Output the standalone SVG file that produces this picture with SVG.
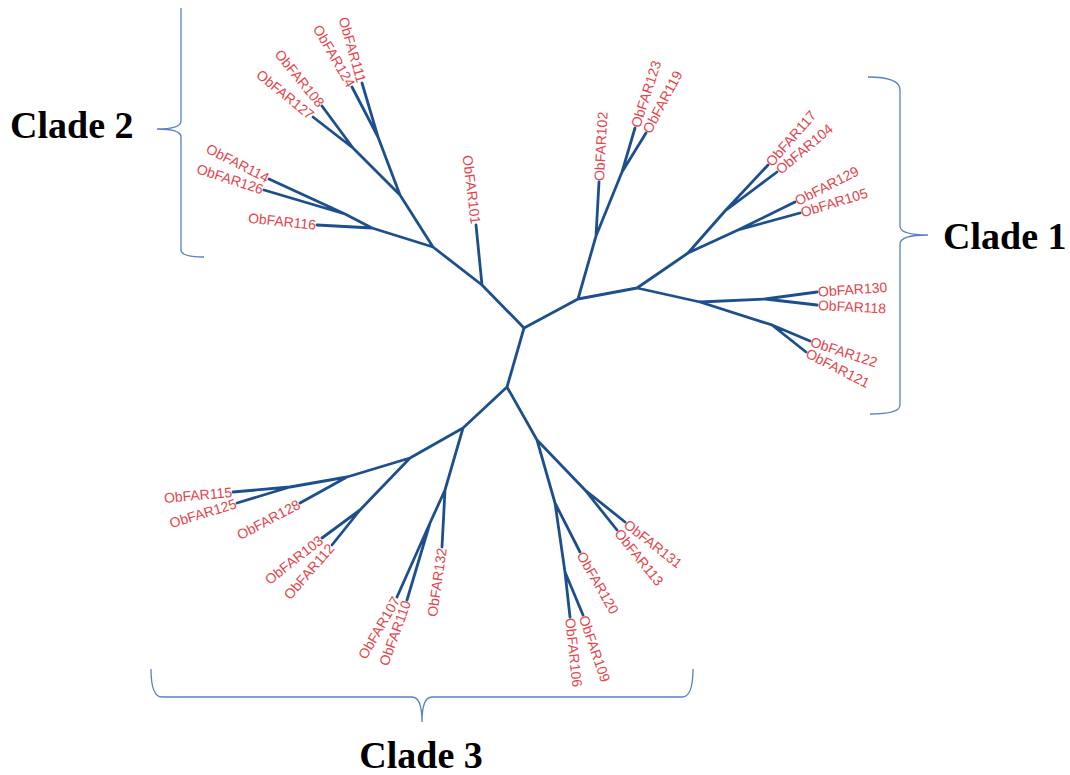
<svg xmlns="http://www.w3.org/2000/svg" width="1070" height="775" viewBox="0 0 1070 775">
<style>
.lbl{font-family:"Liberation Sans",Arial,sans-serif;font-size:14px;fill:#e2444c;}
.e{text-anchor:end;}
.br{fill:none;stroke:#5b7fc2;stroke-width:1.3;}
.cl{font-family:"Liberation Serif","Times New Roman",serif;font-size:38px;font-weight:bold;fill:#000;}
.edge{fill:none;stroke:#1d4f8d;stroke-width:2.8;stroke-linecap:round;stroke-linejoin:round;}
</style>
<rect width="1070" height="775" fill="#fff"/>
<g id="connectors">
<path class="edge" d="M524,328 L482,285 M482,285 L476,225 M482,285 L433,247 M433,247 L400,195 M400,195 L378,137 M378,137 L362,83 M378,137 L352,87 M400,195 L353,148 M353,148 L322,106 M353,148 L313,117 M433,247 L372,228 M372,228 L317,225 M372,228 L345,214 M345,214 L269,179 M345,214 L264,190"/>
<path class="edge" d="M524,328 L578,299 M578,299 L596,236 M596,236 L599,182 M596,236 L622,172 M622,172 L635,128 M622,172 L646,133 M578,299 L637,288 M637,288 L688,253 M688,253 L725,211 M725,211 L768,165 M725,211 L777,172 M688,253 L738,230 M738,230 L795,202 M738,230 L800,213 M637,288 L700,302 M700,302 L765,299 M765,299 L817,292 M765,299 L817,305 M700,302 L772,325 M772,325 L810,341 M772,325 L806,352"/>
<path class="edge" d="M524,328 L507,387 M507,387 L463,428 M463,428 L410,458 M410,458 L347,477 M347,477 L290,487 M290,487 L233,492 M290,487 L237,503 M347,477 L300,503 M410,458 L360,510 M360,510 L322,538 M360,510 L332,545 M463,428 L445,490 M445,490 L442,547 M445,490 L430,523 M430,523 L397,597 M430,523 L407,600 M507,387 L537,440 M537,440 L585,490 M585,490 L625,522 M585,490 L617,530 M537,440 L555,503 M555,503 L580,552 M555,503 L565,572 M565,572 L570,617 M565,572 L583,615"/>
</g>
<g id="clade2-leaves">
<g id="ObFAR111"><text class="lbl e" transform="translate(362,83) rotate(74)" x="-1" dy="0.35em">ObFAR111</text></g>
<g id="ObFAR124"><text class="lbl e" transform="translate(352,87) rotate(60)" x="-1" dy="0.35em">ObFAR124</text></g>
<g id="ObFAR108"><text class="lbl e" transform="translate(322,106) rotate(51)" x="-1" dy="0.35em">ObFAR108</text></g>
<g id="ObFAR127"><text class="lbl e" transform="translate(313,117) rotate(39)" x="-1" dy="0.35em">ObFAR127</text></g>
<g id="ObFAR114"><text class="lbl e" transform="translate(269,179) rotate(27)" x="-1" dy="0.35em">ObFAR114</text></g>
<g id="ObFAR126"><text class="lbl e" transform="translate(264,190) rotate(18)" x="-1" dy="0.35em">ObFAR126</text></g>
<g id="ObFAR116"><text class="lbl e" transform="translate(317,225) rotate(6)" x="-1" dy="0.35em">ObFAR116</text></g>
<g id="ObFAR101"><text class="lbl e" transform="translate(476,225) rotate(83)" x="-1" dy="0.35em">ObFAR101</text></g>
</g>
<g id="clade1-leaves">
<g id="ObFAR102"><text class="lbl" transform="translate(599,182) rotate(-87)" x="1" dy="0.35em">ObFAR102</text></g>
<g id="ObFAR123"><text class="lbl" transform="translate(635,128) rotate(-72)" x="1" dy="0.35em">ObFAR123</text></g>
<g id="ObFAR119"><text class="lbl" transform="translate(646,133) rotate(-62)" x="1" dy="0.35em">ObFAR119</text></g>
<g id="ObFAR117"><text class="lbl" transform="translate(768,165) rotate(-49)" x="1" dy="0.35em">ObFAR117</text></g>
<g id="ObFAR104"><text class="lbl" transform="translate(777,172) rotate(-40)" x="1" dy="0.35em">ObFAR104</text></g>
<g id="ObFAR129"><text class="lbl" transform="translate(795,202) rotate(-27)" x="1" dy="0.35em">ObFAR129</text></g>
<g id="ObFAR105"><text class="lbl" transform="translate(800,213) rotate(-17)" x="1" dy="0.35em">ObFAR105</text></g>
<g id="ObFAR130"><text class="lbl" transform="translate(817,292) rotate(-4)" x="1" dy="0.35em">ObFAR130</text></g>
<g id="ObFAR118"><text class="lbl" transform="translate(817,305) rotate(3)" x="1" dy="0.35em">ObFAR118</text></g>
<g id="ObFAR122"><text class="lbl" transform="translate(810,341) rotate(18)" x="1" dy="0.35em">ObFAR122</text></g>
<g id="ObFAR121"><text class="lbl" transform="translate(806,352) rotate(27)" x="1" dy="0.35em">ObFAR121</text></g>
</g>
<g id="clade3-leaves">
<g id="ObFAR131"><text class="lbl" transform="translate(625,522) rotate(38)" x="1" dy="0.35em">ObFAR131</text></g>
<g id="ObFAR113"><text class="lbl" transform="translate(617,530) rotate(51)" x="1" dy="0.35em">ObFAR113</text></g>
<g id="ObFAR120"><text class="lbl" transform="translate(580,552) rotate(60)" x="1" dy="0.35em">ObFAR120</text></g>
<g id="ObFAR109"><text class="lbl" transform="translate(583,615) rotate(71)" x="1" dy="0.35em">ObFAR109</text></g>
<g id="ObFAR106"><text class="lbl" transform="translate(570,617) rotate(84)" x="1" dy="0.35em">ObFAR106</text></g>
<g id="ObFAR132"><text class="lbl e" transform="translate(442,547) rotate(-82)" x="-1" dy="0.35em">ObFAR132</text></g>
<g id="ObFAR110"><text class="lbl e" transform="translate(407,600) rotate(-70)" x="-1" dy="0.35em">ObFAR110</text></g>
<g id="ObFAR107"><text class="lbl e" transform="translate(397,597) rotate(-60)" x="-1" dy="0.35em">ObFAR107</text></g>
<g id="ObFAR112"><text class="lbl e" transform="translate(332,545) rotate(-49)" x="-1" dy="0.35em">ObFAR112</text></g>
<g id="ObFAR103"><text class="lbl e" transform="translate(322,538) rotate(-38)" x="-1" dy="0.35em">ObFAR103</text></g>
<g id="ObFAR128"><text class="lbl e" transform="translate(300,503) rotate(-28)" x="-1" dy="0.35em">ObFAR128</text></g>
<g id="ObFAR125"><text class="lbl e" transform="translate(237,503) rotate(-17)" x="-1" dy="0.35em">ObFAR125</text></g>
<g id="ObFAR115"><text class="lbl e" transform="translate(233,492) rotate(-5)" x="-1" dy="0.35em">ObFAR115</text></g>
</g>
<g id="clade1">
<path class="br" d="M868,77 Q900,77 900,90 V226 Q900,235 928,235 Q900,235 900,244 V405 Q900,414 870,414"/>
<text class="cl" x="943" y="249">Clade 1</text>
</g>
<g id="clade2">
<path class="br" d="M181,8 V121 Q181,129 157,129 Q181,129 181,137 V250 Q181,257 204,257"/>
<text class="cl" x="10" y="138">Clade 2</text>
</g>
<g id="clade3">
<path class="br" d="M151,669 Q151,697 162,697 H412 Q422,697 422,722 Q422,697 432,697 H682 Q693,697 693,669"/>
<text class="cl" x="421" y="768" text-anchor="middle">Clade 3</text>
</g>
</svg>
